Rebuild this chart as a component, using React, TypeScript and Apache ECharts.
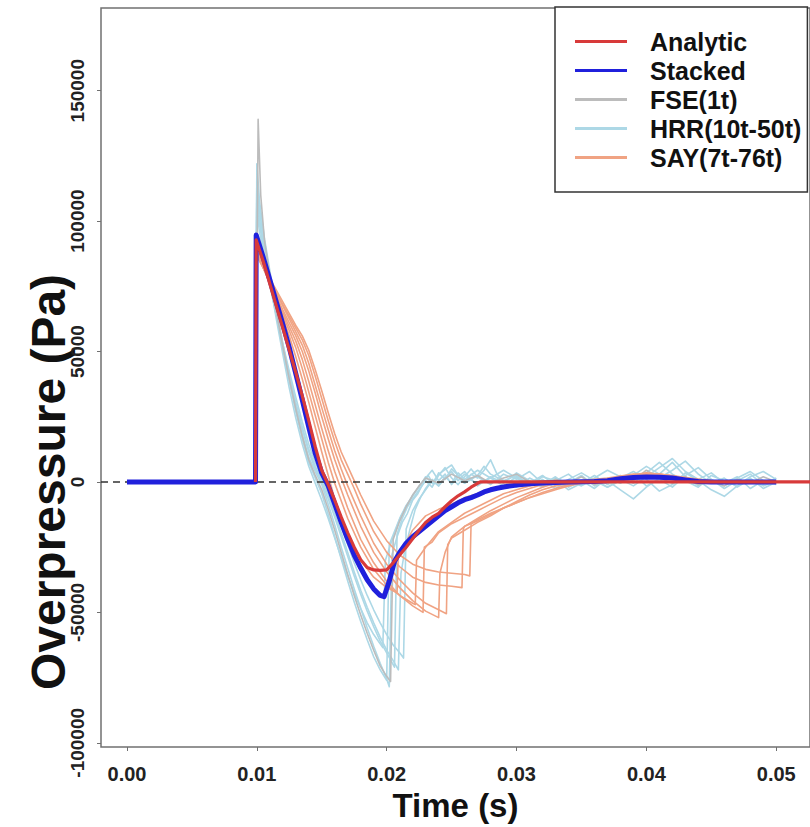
import React, { useEffect, useRef } from "react";
import * as echarts from "echarts";

type P = [number, number][];

const xTicks = [0, 0.01, 0.02, 0.03, 0.04, 0.05];
const yTicks = [-100000, -50000, 0, 50000, 100000, 150000];
const legendNames = ["Analytic", "Stacked", "FSE(1t)", "HRR(10t-50t)", "SAY(7t-76t)"];

const analytic: P = [[0.0099,0],[0.00995,92800],[0.0105,84500],[0.011,76000],[0.0115,67500],[0.012,59000],[0.0125,50500],[0.013,42000],[0.0135,33000],[0.014,23500],[0.0145,13500],[0.015,4500],[0.0155,-1000],[0.016,-7000],[0.0165,-13500],[0.017,-19500],[0.0175,-25000],[0.018,-29800],[0.0185,-32800],[0.019,-33700],[0.0195,-33900],[0.02,-33700],[0.0205,-31000],[0.021,-28000],[0.0215,-25000],[0.022,-21800],[0.0225,-18500],[0.023,-15500],[0.0235,-13500],[0.024,-12000],[0.0245,-9500],[0.025,-7200],[0.0255,-5300],[0.026,-3800],[0.0265,-2000],[0.027,-500],[0.0272,0],[0.06,0]];

const stacked: P = [[0,0],[0.0099,0],[0.00995,94700],[0.0105,86000],[0.011,77500],[0.0115,69000],[0.012,60500],[0.0125,51500],[0.013,41500],[0.0135,31500],[0.014,21000],[0.0145,11000],[0.015,3500],[0.0155,-1500],[0.016,-8500],[0.0165,-15500],[0.017,-22000],[0.0175,-28000],[0.018,-33000],[0.0185,-37500],[0.019,-41000],[0.0195,-43500],[0.0198,-44000],[0.0202,-38000],[0.0206,-30500],[0.021,-27000],[0.0215,-23500],[0.022,-21000],[0.0225,-19000],[0.023,-17000],[0.0235,-15000],[0.024,-13000],[0.0245,-11000],[0.025,-9500],[0.0255,-8000],[0.026,-6800],[0.0265,-6000],[0.027,-5000],[0.0275,-3800],[0.028,-3000],[0.0285,-2400],[0.029,-1900],[0.03,-1200],[0.031,-700],[0.032,-400],[0.033,-200],[0.034,0],[0.036,200],[0.037,500],[0.038,1200],[0.039,1700],[0.04,1900],[0.041,1800],[0.042,1500],[0.043,800],[0.044,200],[0.045,0],[0.05,0]];

const fse: P = [[0,0],[0.0099,0],[0.0101,139000],[0.0103,110000],[0.0106,92000],[0.011,79500],[0.0115,65500],[0.012,52000],[0.0125,39500],[0.013,28000],[0.0135,17500],[0.014,8500],[0.0145,2500],[0.015,-3000],[0.0155,-10500],[0.016,-18500],[0.0165,-27000],[0.017,-35500],[0.0175,-43500],[0.018,-51000],[0.0185,-58000],[0.019,-64500],[0.0195,-70500],[0.02,-74500],[0.0203,-76500],[0.0205,-22000],[0.021,-15000],[0.0215,-9500],[0.022,-5000],[0.0225,-1500],[0.023,1500],[0.024,-500],[0.025,3000],[0.026,500],[0.027,2500],[0.028,-500],[0.029,1500],[0.03,3000],[0.031,0],[0.032,-1500],[0.033,1000],[0.034,-500],[0.035,2000],[0.036,-1000],[0.037,500],[0.038,2500],[0.039,500],[0.04,4500],[0.041,1500],[0.042,-500],[0.043,2000],[0.044,-1000],[0.045,500],[0.046,-1500],[0.047,1000],[0.048,-500],[0.049,2000],[0.05,0]];

const hrr1: P = [[0,0],[0.0099,0],[0.01,122000],[0.0102,108000],[0.0106,93000],[0.011,81000],[0.0115,67000],[0.012,53000],[0.0125,40000],[0.013,28000],[0.0135,18000],[0.014,9500],[0.0145,4000],[0.015,-1000],[0.0155,-8500],[0.016,-16500],[0.0165,-25000],[0.017,-33000],[0.0175,-41000],[0.018,-48500],[0.0185,-56000],[0.019,-63000],[0.0195,-69500],[0.02,-75500],[0.0202,-78500],[0.0204,-28000],[0.0208,-21000],[0.0212,-15500],[0.0216,-12000],[0.022,-7000],[0.0224,-4500],[0.0228,-500],[0.0232,2500],[0.0236,-1000],[0.024,3500],[0.0245,1000],[0.025,5000],[0.0255,2500],[0.026,-500],[0.0265,3000],[0.027,1500],[0.0275,4500],[0.028,8500],[0.0285,3000],[0.029,500],[0.03,2500],[0.031,-1500],[0.032,1000],[0.033,-2500],[0.034,500],[0.035,-1500],[0.036,1000],[0.037,-2000],[0.038,500],[0.039,2500],[0.04,6000],[0.041,3000],[0.042,7500],[0.043,2000],[0.044,-1500],[0.045,1000],[0.046,-2500],[0.047,500],[0.048,3000],[0.049,-1000],[0.05,1500]];

const hrr2: P = [[0,0],[0.0099,0],[0.01,116000],[0.0102,104000],[0.0106,90000],[0.011,78000],[0.0115,64500],[0.012,51000],[0.0125,38500],[0.013,27000],[0.0135,16500],[0.014,7500],[0.0145,1500],[0.015,-4500],[0.0155,-12500],[0.016,-21000],[0.0165,-29500],[0.017,-38000],[0.0175,-46000],[0.018,-53500],[0.0185,-60500],[0.019,-67000],[0.0195,-72000],[0.02,-76000],[0.0202,-24000],[0.0206,-19000],[0.021,-14000],[0.0215,-9000],[0.022,-5500],[0.0225,-1500],[0.023,1500],[0.0235,4500],[0.024,500],[0.0245,3000],[0.025,-1000],[0.0255,2000],[0.026,4000],[0.0265,1000],[0.027,-1500],[0.028,2000],[0.029,-500],[0.03,3500],[0.031,500],[0.032,-2000],[0.033,1500],[0.034,-500],[0.035,2500],[0.036,-1500],[0.037,500],[0.038,-3000],[0.039,-6500],[0.04,-2000],[0.041,1500],[0.042,4500],[0.043,8000],[0.044,3000],[0.045,-500],[0.046,1500],[0.047,-2000],[0.048,1000],[0.049,-1500],[0.05,500]];

const hrr3: P = [[0,0],[0.0099,0],[0.01,110000],[0.0102,99000],[0.0106,87000],[0.011,76500],[0.0115,64000],[0.012,51500],[0.0125,40000],[0.013,29500],[0.0135,20000],[0.014,11500],[0.0145,5000],[0.015,0],[0.0155,-6500],[0.016,-13500],[0.0165,-21000],[0.017,-28500],[0.0175,-36000],[0.018,-43000],[0.0185,-49500],[0.019,-55500],[0.0195,-61000],[0.02,-65500],[0.0206,-71000],[0.0208,-20000],[0.0212,-14000],[0.0216,-9500],[0.022,-6500],[0.0225,-3000],[0.023,500],[0.0235,-2000],[0.024,2500],[0.0245,5500],[0.025,1500],[0.0255,-1000],[0.026,2000],[0.0265,5000],[0.027,2000],[0.028,-1000],[0.029,3000],[0.03,1000],[0.031,4000],[0.032,-500],[0.033,1000],[0.034,-3000],[0.035,-500],[0.036,2500],[0.037,-1000],[0.038,1500],[0.039,4000],[0.04,1000],[0.041,-3500],[0.042,-1000],[0.043,3500],[0.044,500],[0.045,-3000],[0.046,-5500],[0.047,-1500],[0.048,1500],[0.049,-2500],[0.05,0]];

const hrr4: P = [[0,0],[0.0099,0],[0.01,105000],[0.0102,96000],[0.0106,85500],[0.011,75500],[0.0115,64000],[0.012,53000],[0.0125,42500],[0.013,32500],[0.0135,23000],[0.014,14500],[0.0145,7500],[0.015,2000],[0.0155,-3500],[0.016,-10000],[0.0165,-17000],[0.017,-24000],[0.0175,-31000],[0.018,-37500],[0.0185,-43500],[0.019,-49000],[0.0195,-54000],[0.02,-58500],[0.0205,-62500],[0.021,-65500],[0.0213,-67500],[0.0215,-18000],[0.022,-11000],[0.0225,-6500],[0.023,-3000],[0.0235,500],[0.024,-1500],[0.0245,2000],[0.025,-500],[0.0255,3500],[0.026,1000],[0.027,4500],[0.028,1500],[0.029,-1500],[0.03,2000],[0.031,-500],[0.032,2500],[0.033,-1500],[0.034,1000],[0.035,3500],[0.036,500],[0.037,-2000],[0.038,1000],[0.039,-1500],[0.04,2000],[0.041,5500],[0.042,9000],[0.043,4000],[0.044,1000],[0.045,3500],[0.046,-500],[0.047,2000],[0.048,-2500],[0.049,500],[0.05,-1000]];

const hrr5: P = [[0,0],[0.0099,0],[0.01,118000],[0.0102,105000],[0.0106,90000],[0.011,77000],[0.0115,62500],[0.012,49000],[0.0125,36000],[0.013,24500],[0.0135,14500],[0.014,6000],[0.0145,-500],[0.015,-7000],[0.0155,-14000],[0.016,-21500],[0.0165,-29000],[0.017,-36000],[0.0175,-42500],[0.018,-48500],[0.0185,-54000],[0.019,-58500],[0.0197,-63500],[0.0199,-30000],[0.0203,-24000],[0.0207,-18500],[0.0211,-13000],[0.0215,-9500],[0.022,-5000],[0.0225,-2000],[0.023,2000],[0.0235,-500],[0.024,3000],[0.025,6500],[0.0255,2500],[0.026,-500],[0.027,2500],[0.0275,6000],[0.028,3000],[0.029,500],[0.03,-2000],[0.031,1500],[0.032,-1000],[0.033,2000],[0.034,-2000],[0.035,500],[0.036,-2500],[0.037,1500],[0.038,-500],[0.039,3000],[0.04,-1500],[0.041,1000],[0.042,-2000],[0.043,2500],[0.044,5500],[0.045,1000],[0.046,-1500],[0.047,1500],[0.048,4000],[0.049,500],[0.05,-500]];

const hrr6: P = [[0,0],[0.0099,0],[0.01,112000],[0.0102,101000],[0.0106,88000],[0.011,77000],[0.0115,64500],[0.012,52500],[0.0125,41000],[0.013,30500],[0.0135,21000],[0.014,12500],[0.0145,6000],[0.015,1000],[0.0155,-5000],[0.016,-12000],[0.0165,-19500],[0.017,-27000],[0.0175,-34500],[0.018,-41500],[0.0185,-48000],[0.019,-54000],[0.0195,-59500],[0.02,-64500],[0.0205,-68500],[0.0209,-72000],[0.0211,-35000],[0.0214,-26000],[0.0218,-18000],[0.0222,-10500],[0.0226,-6000],[0.023,-2500],[0.0235,1000],[0.024,-1500],[0.0245,1500],[0.025,4000],[0.0255,500],[0.026,3000],[0.027,-1000],[0.028,1500],[0.029,4500],[0.03,1500],[0.031,-1500],[0.032,2000],[0.033,500],[0.034,3000],[0.035,-1000],[0.036,1500],[0.037,4500],[0.038,2000],[0.039,-500],[0.04,3500],[0.041,7500],[0.042,3000],[0.043,500],[0.044,-2000],[0.045,2500],[0.046,500],[0.047,-1500],[0.048,2000],[0.049,4000],[0.05,1000]];

const say1: P = [[0,0],[0.0099,0],[0.00995,91000],[0.0105,83000],[0.011,76500],[0.0115,70000],[0.012,63000],[0.0125,56000],[0.013,48000],[0.0135,39500],[0.014,30500],[0.0145,21000],[0.015,11500],[0.0155,2500],[0.016,-6500],[0.017,-20000],[0.018,-30000],[0.019,-36500],[0.02,-40500],[0.0208,-42500],[0.0209,-27000],[0.0215,-23000],[0.022,-18500],[0.023,-13000],[0.024,-10500],[0.025,-8500],[0.026,-6000],[0.027,-4500],[0.028,-3000],[0.029,-1500],[0.03,-500],[0.031,0],[0.033,500],[0.035,0],[0.037,1000],[0.039,2500],[0.041,2000],[0.043,500],[0.045,0],[0.05,0]];

const say2: P = [[0,0],[0.0099,0],[0.00995,89000],[0.0105,82000],[0.011,76000],[0.0115,70000],[0.012,64000],[0.0125,58000],[0.013,51500],[0.0135,43500],[0.014,34500],[0.0145,25500],[0.015,16500],[0.0155,7500],[0.016,-500],[0.017,-14000],[0.018,-25000],[0.019,-33500],[0.02,-39500],[0.021,-43500],[0.022,-46500],[0.0222,-47000],[0.0223,-30000],[0.023,-25000],[0.024,-19000],[0.025,-15500],[0.026,-12000],[0.027,-9500],[0.028,-7000],[0.029,-4500],[0.03,-3000],[0.031,-1500],[0.032,-500],[0.033,0],[0.035,500],[0.037,1500],[0.039,3000],[0.041,2500],[0.043,1000],[0.045,0],[0.05,0]];

const say3: P = [[0,0],[0.0099,0],[0.00995,90000],[0.0105,82500],[0.011,76500],[0.0115,70500],[0.012,65000],[0.0125,59500],[0.013,54000],[0.0135,47000],[0.014,38500],[0.0145,29500],[0.015,20500],[0.0155,12000],[0.016,4000],[0.017,-10000],[0.018,-22000],[0.019,-31000],[0.02,-38000],[0.021,-43500],[0.022,-47500],[0.0228,-50000],[0.0229,-25000],[0.0235,-23000],[0.024,-19500],[0.025,-16000],[0.026,-13500],[0.027,-11000],[0.028,-8500],[0.029,-6000],[0.03,-4000],[0.031,-2500],[0.032,-1000],[0.033,0],[0.035,0],[0.037,1000],[0.039,2000],[0.041,3000],[0.043,1500],[0.045,500],[0.05,0]];

const say4: P = [[0,0],[0.0099,0],[0.00995,88000],[0.0105,82000],[0.011,76500],[0.0115,71500],[0.012,66000],[0.0125,61000],[0.013,56000],[0.0135,50000],[0.014,42500],[0.0145,34000],[0.015,25000],[0.0155,16500],[0.016,8500],[0.0165,1500],[0.017,-5000],[0.018,-17000],[0.019,-27000],[0.02,-34500],[0.021,-40500],[0.022,-45500],[0.023,-49500],[0.024,-52000],[0.0241,-35000],[0.0245,-27000],[0.025,-21000],[0.026,-17000],[0.027,-14000],[0.028,-11000],[0.029,-8500],[0.03,-6000],[0.031,-4000],[0.032,-2000],[0.033,-500],[0.034,0],[0.036,500],[0.038,2000],[0.04,3500],[0.042,2500],[0.044,1000],[0.046,0],[0.05,0]];

const say5: P = [[0,0],[0.0099,0],[0.00995,91000],[0.0105,83500],[0.011,77500],[0.0115,72500],[0.012,67500],[0.0125,62500],[0.013,57500],[0.0135,52500],[0.014,45500],[0.0145,37000],[0.015,28500],[0.0155,20000],[0.016,12000],[0.0165,5000],[0.017,-1500],[0.018,-13000],[0.019,-23500],[0.02,-31500],[0.021,-37500],[0.022,-42500],[0.023,-46500],[0.024,-49000],[0.0246,-50500],[0.0247,-24000],[0.025,-21500],[0.026,-18500],[0.027,-15500],[0.028,-13000],[0.029,-10000],[0.03,-7500],[0.031,-5000],[0.032,-3000],[0.033,-1500],[0.034,-500],[0.035,0],[0.037,1000],[0.039,2500],[0.041,3000],[0.043,1500],[0.045,0],[0.05,0]];

const say6: P = [[0,0],[0.0099,0],[0.00995,87000],[0.0105,82000],[0.011,77000],[0.0115,72500],[0.012,68000],[0.0125,63500],[0.013,59000],[0.0135,54500],[0.014,48500],[0.0145,40500],[0.015,32000],[0.0155,23500],[0.016,15500],[0.0165,8500],[0.017,3000],[0.0175,-2500],[0.018,-8500],[0.019,-19000],[0.02,-27000],[0.021,-32500],[0.022,-36500],[0.023,-38500],[0.024,-39500],[0.025,-40000],[0.0258,-40500],[0.0259,-18000],[0.026,-17000],[0.027,-15000],[0.028,-12500],[0.029,-10000],[0.03,-8000],[0.031,-6000],[0.032,-4000],[0.033,-2500],[0.034,-1000],[0.035,0],[0.037,500],[0.039,2000],[0.041,2500],[0.043,1000],[0.045,0],[0.05,0]];

const say7: P = [[0,0],[0.0099,0],[0.00995,89000],[0.0105,83000],[0.011,78000],[0.0115,73500],[0.012,69000],[0.0125,64500],[0.013,60000],[0.0135,56000],[0.014,50500],[0.0145,43000],[0.015,35000],[0.0155,26500],[0.016,18500],[0.0165,11500],[0.017,6000],[0.0175,500],[0.018,-5000],[0.019,-15000],[0.02,-22500],[0.021,-28000],[0.022,-31500],[0.023,-33500],[0.024,-34500],[0.025,-35000],[0.026,-35500],[0.0264,-36000],[0.0265,-16000],[0.027,-14500],[0.028,-12000],[0.029,-10000],[0.03,-8000],[0.031,-6000],[0.032,-4500],[0.033,-3000],[0.034,-1500],[0.035,-500],[0.036,0],[0.038,1500],[0.04,3000],[0.042,2000],[0.044,500],[0.046,0],[0.05,0]];

const hrrLines = [hrr1, hrr2, hrr3, hrr4, hrr5, hrr6];
const sayLines = [say1, say2, say3, say4, say5, say6, say7];

const RED = "#d83a3a";
const BLUE = "#2020dc";
const GREY = "#bcbcbc";
const LIGHTBLUE = "#add8e6";
const SALMON = "#f0a383";
const FONT = "'Liberation Sans', Arial, Helvetica, sans-serif";

function lineSeries(name: string, data: P, color: string, width: number, z: number, extra: any = {}) {
  return {
    type: "line",
    name,
    data,
    showSymbol: false,
    symbol: "none",
    silent: true,
    clip: true,
    z,
    lineStyle: { color, width, join: "round" },
    itemStyle: { color },
    emphasis: { disabled: true },
    ...extra,
  };
}

export default function App() {
  const ref = useRef<HTMLDivElement>(null);
  useEffect(() => {
    document.body.style.margin = "0";
    const chart = echarts.init(ref.current!, null, { renderer: "svg" });
    const series: any[] = [];
    hrrLines.forEach((d) => series.push(lineSeries("HRR(10t-50t)", d, LIGHTBLUE, 1.6, 2)));
    series.push(lineSeries("FSE(1t)", fse, GREY, 1.6, 3));
    sayLines.forEach((d) => series.push(lineSeries("SAY(7t-76t)", d, SALMON, 1.6, 4)));
    series.push(lineSeries("Stacked", stacked, BLUE, 5, 5));
    series.push(
      lineSeries("Analytic", analytic, RED, 3.2, 6, {
        markLine: {
          silent: true,
          symbol: "none",
          label: { show: false },
          lineStyle: { type: [7, 5], color: "#333", width: 1.5 },
          data: [{ yAxis: 0 }],
        },
      })
    );
    chart.setOption({
      animation: false,
      backgroundColor: "#ffffff",
      grid: {
        left: 101,
        top: 8,
        width: 724,
        height: 739,
        show: true,
        borderColor: "#707070",
        borderWidth: 1.5,
        backgroundColor: "transparent",
      },
      xAxis: {
        type: "value",
        min: -0.002,
        max: 0.0526,
        name: "Time (s)",
        nameLocation: "middle",
        nameGap: 42,
        nameTextStyle: { fontSize: 33, fontWeight: "bold", color: "#111", fontFamily: FONT },
        axisLine: { show: false, onZero: false },
        splitLine: { show: false },
        axisTick: { show: true, length: 4, lineStyle: { color: "#707070" }, customValues: xTicks },
        axisLabel: {
          customValues: xTicks,
          formatter: (v: number) => v.toFixed(2),
          fontSize: 20,
          fontWeight: "bold",
          color: "#222",
          fontFamily: FONT,
          margin: 17,
        },
      },
      yAxis: {
        type: "value",
        min: -101600,
        max: 181700,
        axisLine: { show: false, onZero: false },
        splitLine: { show: false },
        axisTick: { show: true, length: 4, lineStyle: { color: "#707070" }, customValues: yTicks },
        axisLabel: {
          customValues: yTicks,
          formatter: (v: number) => String(v),
          rotate: 90,
          fontSize: 19,
          fontWeight: "bold",
          color: "#222",
          fontFamily: FONT,
          margin: 14,
        },
      },
      legend: {
        data: legendNames,
        orient: "vertical",
        left: 555,
        top: 7,
        padding: [20, 6, 20, 20],
        itemWidth: 52,
        itemHeight: 3,
        itemGap: 0,
        icon: "rect",
        backgroundColor: "#ffffff",
        borderColor: "#333",
        borderWidth: 1.5,
        borderRadius: 0,
        selectedMode: false,
        textStyle: {
          fontSize: 25,
          fontWeight: "bold",
          color: "#111",
          fontFamily: FONT,
          lineHeight: 29,
          padding: [0, 0, 0, 18],
        },
      },
      graphic: [
        {
          type: "text",
          x: 48,
          y: 482,
          rotation: Math.PI / 2,
          style: {
            text: "Overpressure (Pa)",
            fontSize: 48,
            fontWeight: "bold",
            fontFamily: FONT,
            fill: "#111",
            align: "center",
            verticalAlign: "middle",
          },
        },
      ],
      series,
    });
    return () => chart.dispose();
  }, []);
  return <div ref={ref} style={{ position: "fixed", left: 0, top: 0, width: 810, height: 827 }} />;
}
